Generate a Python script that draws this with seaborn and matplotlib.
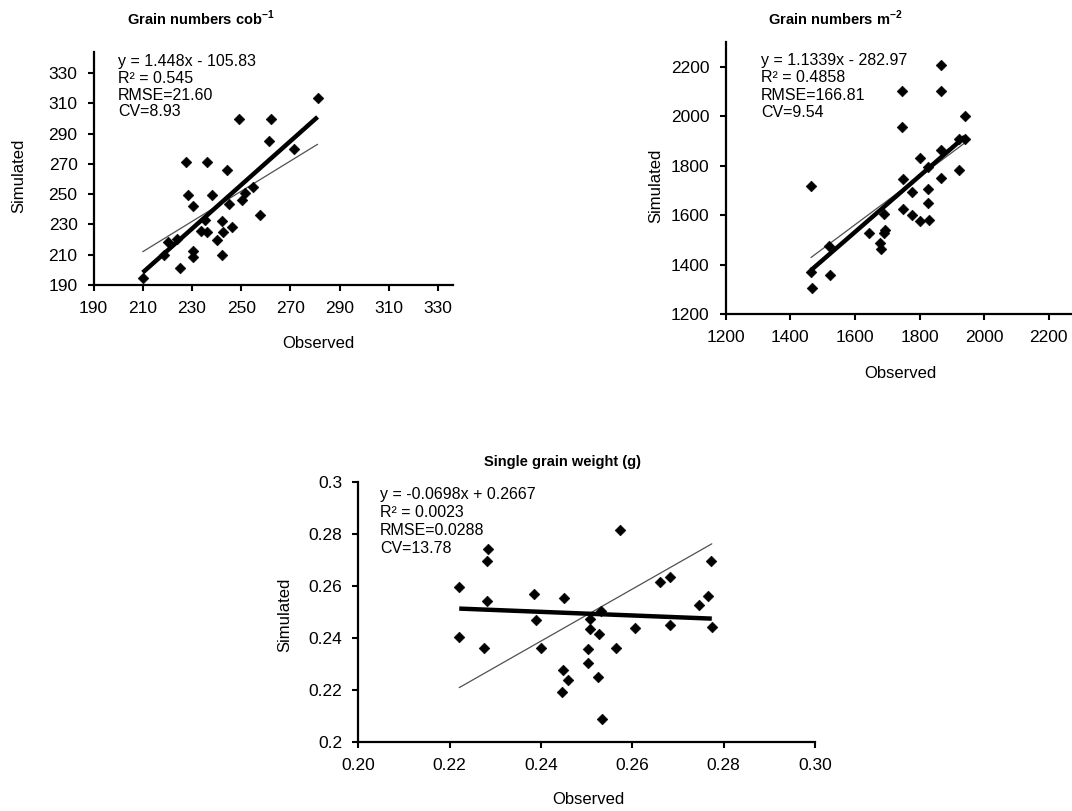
import numpy as np
import pandas as pd
import matplotlib
matplotlib.use("Agg")
import matplotlib.pyplot as plt
import seaborn as sns

# ---------------- data ----------------
cob_obs = [281.0, 248.9, 262.2, 261.2, 271.3, 227.4, 236.2, 244.2, 228.3, 238.2,
           230.6, 245.0, 251.4, 250.3, 254.8, 257.8, 235.4, 242.3, 233.7, 236.2,
           246.2, 242.6, 240.3, 242.3, 230.4, 230.4, 220.2, 223.8, 218.5, 225.3, 210.0]
cob_sim = [313.9, 299.6, 299.6, 285.4, 279.9, 271.6, 271.6, 265.7, 249.2, 249.2,
           242.2, 243.7, 251.0, 246.4, 254.7, 236.1, 232.8, 232.1, 225.7, 225.0,
           228.4, 225.1, 219.6, 209.7, 212.6, 208.6, 218.5, 220.7, 209.7, 201.4, 194.8]

m2_obs = [1868, 1745, 1868, 1940, 1745, 1922, 1940, 1868, 1800, 1826,
          1923, 1464, 1748, 1868, 1776, 1826, 1826, 1748, 1776, 1801,
          1828, 1691, 1693, 1691, 1678, 1680, 1644, 1521, 1464, 1522, 1467]
m2_sim = [2207, 2102, 2102, 1999, 1958, 1909, 1909, 1862, 1831, 1795,
          1784, 1717, 1744, 1750, 1694, 1707, 1650, 1623, 1599, 1576,
          1580, 1603, 1540, 1526, 1486, 1462, 1528, 1473, 1371, 1358, 1307]

sgw_obs = [0.2221, 0.2221, 0.2283, 0.2281, 0.2281, 0.2275, 0.2384, 0.2389, 0.2400, 0.2451,
           0.2448, 0.2460, 0.2446, 0.2574, 0.2531, 0.2508, 0.2508, 0.2528, 0.2502, 0.2502,
           0.2525, 0.2533, 0.2564, 0.2606, 0.2661, 0.2682, 0.2683, 0.2747, 0.2765, 0.2772, 0.2774]
sgw_sim = [0.2594, 0.2404, 0.2740, 0.2695, 0.2542, 0.2359, 0.2567, 0.2468, 0.2359, 0.2554,
           0.2276, 0.2237, 0.2192, 0.2814, 0.2504, 0.2472, 0.2433, 0.2413, 0.2355, 0.2301,
           0.2250, 0.2087, 0.2362, 0.2438, 0.2615, 0.2635, 0.2449, 0.2526, 0.2560, 0.2695, 0.2442]

titles = [r"Grain numbers cob$^{\mathbf{-1}}$", r"Grain numbers m$^{\mathbf{-2}}$", "Single grain weight (g)"]
fit_slope = [1.448, 1.1339, -0.0698]
fit_intercept = [-105.83, -282.97, 0.2667]
ref_slope = [1.0, 0.973, 1.0]
ref_intercept = [2.0, 4.0, -0.0013]
stats_text = [
    "y = 1.448x - 105.83\nR\u00b2 = 0.545\nRMSE=21.60\nCV=8.93",
    "y = 1.1339x - 282.97\nR\u00b2 = 0.4858\nRMSE=166.81\nCV=9.54",
    "y = -0.0698x + 0.2667\nR\u00b2 = 0.0023\nRMSE=0.0288\nCV=13.78",
]
cob_ticks = [190, 210, 230, 250, 270, 290, 310, 330]
m2_ticks = [1200, 1400, 1600, 1800, 2000, 2200]
sgw_xticks = [0.20, 0.22, 0.24, 0.26, 0.28, 0.30]
sgw_xticklabels = ["0.20", "0.22", "0.24", "0.26", "0.28", "0.30"]
sgw_yticks = [0.20, 0.22, 0.24, 0.26, 0.28, 0.30]
sgw_yticklabels = ["0.2", "0.22", "0.24", "0.26", "0.28", "0.3"]

# ---------------- style ----------------
sns.set_theme(style="ticks")
plt.rcParams['font.family'] = ['Liberation Sans', 'DejaVu Sans']
plt.rcParams['mathtext.fontset'] = 'custom'
plt.rcParams['mathtext.rm'] = 'Liberation Sans'
plt.rcParams['mathtext.bf'] = 'Liberation Sans:bold'
plt.rcParams['axes.unicode_minus'] = False

W, H = 1072, 811
fig = plt.figure(figsize=(W / 100, H / 100), dpi=100)
fig.patch.set_facecolor("white")


def rect(l, t, r, b):
    return [l / W, 1 - b / H, (r - l) / W, (b - t) / H]


def fxy(x, y):
    return x / W, 1 - y / H


panels = [
    dict(obs=cob_obs, sim=cob_sim, rect=rect(93.5, 52, 453, 285), xlim=(190, 336), ylim=(190, 344),
         xt=cob_ticks, xtl=[str(v) for v in cob_ticks], yt=cob_ticks, ytl=[str(v) for v in cob_ticks],
         title_xy=(201, 18), stats_xy=(118, 54), ylab_xy=(19, 176), xlab_xy=(318, 343)),
    dict(obs=m2_obs, sim=m2_sim, rect=rect(725.7, 42, 1072, 314), xlim=(1200, 2272), ylim=(1200, 2300),
         xt=m2_ticks, xtl=[str(v) for v in m2_ticks], yt=m2_ticks, ytl=[str(v) for v in m2_ticks],
         title_xy=(835, 18), stats_xy=(761, 53), ylab_xy=(656, 186), xlab_xy=(900, 373)),
    dict(obs=sgw_obs, sim=sgw_sim, rect=rect(358.3, 481.7, 815, 741.7), xlim=(0.2, 0.30), ylim=(0.2, 0.3),
         xt=sgw_xticks, xtl=sgw_xticklabels, yt=sgw_yticks, ytl=sgw_yticklabels,
         title_xy=(562, 462), stats_xy=(380, 487), ylab_xy=(285, 615), xlab_xy=(588, 800)),
]
stats_spacing = [1.15, 1.2, 1.25]

for i, p in enumerate(panels):
    ax = fig.add_axes(p["rect"])
    ax.set_facecolor("white")
    df = pd.DataFrame({"Observed": p["obs"], "Simulated": p["sim"]})
    xs = np.array([df["Observed"].min(), df["Observed"].max()])
    line_df = pd.DataFrame({"x": xs,
                            "fit": fit_slope[i] * xs + fit_intercept[i],
                            "ref": ref_slope[i] * xs + ref_intercept[i]})
    sns.lineplot(data=line_df, x="x", y="ref", ax=ax, color="#505050", linewidth=0.9,
                 zorder=2, clip_on=False)
    sns.lineplot(data=line_df, x="x", y="fit", ax=ax, color="black", linewidth=3.2,
                 zorder=3, clip_on=False, solid_capstyle="butt")
    sns.scatterplot(data=df, x="Observed", y="Simulated", ax=ax, marker="D", s=30,
                    color="black", edgecolor="black", linewidth=0.4, zorder=4, clip_on=False)
    ax.set_xlim(*p["xlim"])
    ax.set_ylim(*p["ylim"])
    ax.set_xticks(p["xt"])
    ax.set_xticklabels(p["xtl"])
    ax.set_yticks(p["yt"])
    ax.set_yticklabels(p["ytl"])
    ax.set_xlabel("")
    ax.set_ylabel("")
    ax.grid(False)
    sns.despine(ax=ax)
    for s in ("left", "bottom"):
        ax.spines[s].set_linewidth(1.6)
        ax.spines[s].set_color("black")
    ax.tick_params(axis="both", direction="out", length=4.5, width=1.5, pad=7,
                   labelsize=12.5, colors="black")
    fig.text(*fxy(*p["title_xy"]), titles[i], ha="center", va="center",
             fontsize=10.5, fontweight="bold", color="black")
    fig.text(*fxy(*p["stats_xy"]), stats_text[i], ha="left", va="top",
             fontsize=11.5, color="black", linespacing=stats_spacing[i])
    fig.text(*fxy(*p["ylab_xy"]), "Simulated", ha="center", va="center", rotation=90,
             fontsize=12, color="black")
    fig.text(*fxy(*p["xlab_xy"]), "Observed", ha="center", va="center",
             fontsize=12, color="black")

fig.savefig("out.png", dpi=100, facecolor="white")
